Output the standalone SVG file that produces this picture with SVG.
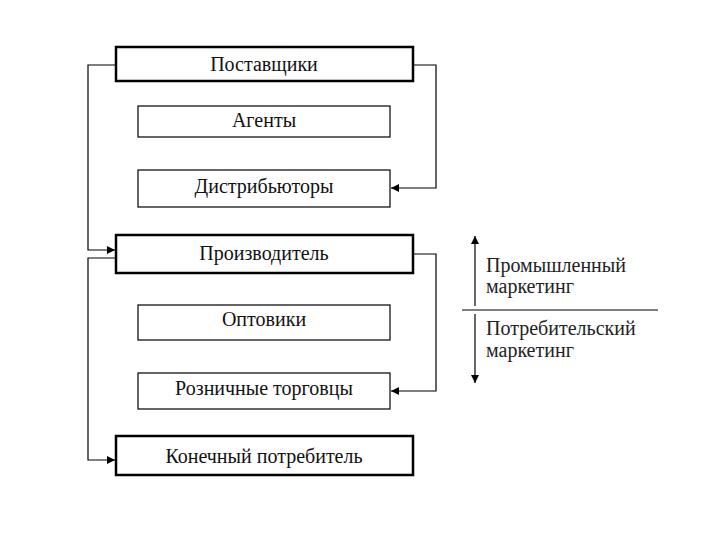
<svg xmlns="http://www.w3.org/2000/svg" width="720" height="540" viewBox="0 0 720 540">
<style>
.main{fill:#fff;stroke:#000;stroke-width:2.5}
.sub{fill:#fff;stroke:#000;stroke-width:1.2}
.t{font-family:"Liberation Serif","Times New Roman",serif;font-size:20px;fill:#111;text-anchor:middle}
.s{font-family:"Liberation Serif","Times New Roman",serif;font-size:20px;fill:#222}
.c{fill:none;stroke:#000;stroke-width:1.2}
</style>
<defs>
<marker id="ah" viewBox="0 0 10 10" refX="10" refY="5" markerWidth="8" markerHeight="8" markerUnits="userSpaceOnUse" orient="auto">
<path d="M0,0 L10,5 L0,10 z" fill="#000"/>
</marker>
</defs>
<rect width="720" height="540" fill="#fff"/>
<g id="connectors">
<polyline class="c" points="116,65 88,65 88,250 115,250" marker-end="url(#ah)"/>
<polyline class="c" points="116,258 88,258 88,460 115,460" marker-end="url(#ah)"/>
<polyline class="c" points="413,65 436,65 436,188 391,188" marker-end="url(#ah)"/>
<polyline class="c" points="413,254 436,254 436,391 391,391" marker-end="url(#ah)"/>
</g>
<g id="n1"><rect class="main" x="116" y="47" width="297" height="34"/><text class="t" x="264" y="71">Поставщики</text></g>
<g id="n2"><rect class="sub" x="138" y="106" width="252" height="31"/><text class="t" x="264" y="127">Агенты</text></g>
<g id="n3"><rect class="sub" x="138" y="170" width="252" height="37"/><text class="t" x="264" y="193">Дистрибьюторы</text></g>
<g id="n4"><rect class="main" x="116" y="235" width="297" height="38"/><text class="t" x="264" y="260">Производитель</text></g>
<g id="n5"><rect class="sub" x="138" y="305" width="252" height="35"/><text class="t" x="264" y="326">Оптовики</text></g>
<g id="n6"><rect class="sub" x="138" y="373" width="252" height="36"/><text class="t" x="264" y="395">Розничные торговцы</text></g>
<g id="n7"><rect class="main" x="116" y="436" width="297" height="39"/><text class="t" x="264" y="463">Конечный потребитель</text></g>
<g id="legend">
<line class="c" x1="475" y1="306" x2="475" y2="236" marker-end="url(#ah)"/>
<line class="c" x1="475" y1="314" x2="475" y2="383" marker-end="url(#ah)"/>
<line x1="462" y1="310" x2="658" y2="310" stroke="#000" stroke-width="1.2"/>
<text class="s" x="486" y="272">Промышленный</text>
<text class="s" x="486" y="293">маркетинг</text>
<text class="s" x="486" y="335">Потребительский</text>
<text class="s" x="486" y="357">маркетинг</text>
</g>
</svg>
